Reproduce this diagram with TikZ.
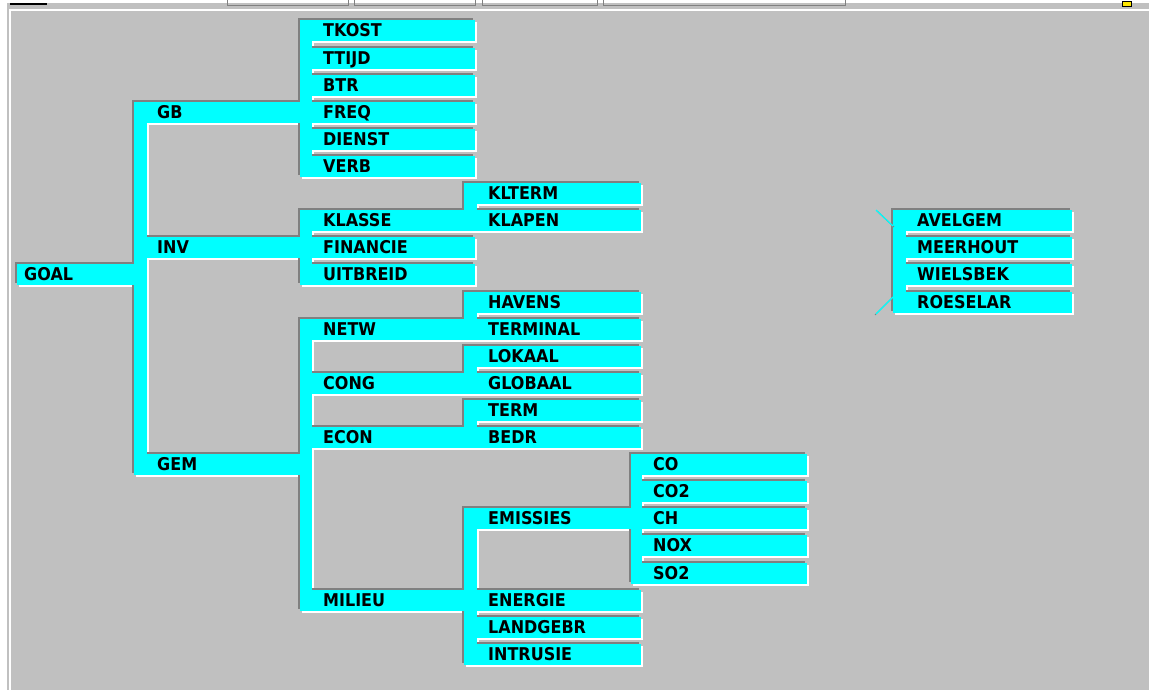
\documentclass[tikz,border=0pt]{standalone}
\usepackage{fontspec}
\newfontfamily\lblfont{DejaVu Sans}
\definecolor{bg}{HTML}{C0C0C0}
\definecolor{cy}{HTML}{00FFFF}
\definecolor{dk}{HTML}{808080}
\newcommand\Band[3]{\fill (#1,{31+27.1*(#3)-10.5}) rectangle (#2,{31+27.1*(#3)+10.5});}
\newcommand\Stem[4]{\fill (#1,{31+27.1*(#3)-10.5}) rectangle (#2,{31+27.1*(#4)+10.5});}
\newcommand\TreeShapes{%
  \Band{17}{134}{9}
  \Stem{134}{147}{3}{16}
  \Band{134}{300}{3}\Band{134}{300}{8}\Band{134}{300}{16}
  \Stem{300}{312}{0}{5}
  \foreach \n in {0,...,5}{\Band{300}{475}{\n}}
  \Stem{300}{312}{7}{9}
  \Band{300}{464}{7}\Band{300}{475}{8}\Band{300}{475}{9}
  \Stem{464}{477}{6}{7}\Band{464}{641}{6}\Band{464}{641}{7}
  \Stem{300}{312}{11}{21}
  \Band{300}{464}{11}\Band{300}{464}{13}\Band{300}{464}{15}\Band{300}{464}{21}
  \Stem{464}{477}{10}{11}\Stem{464}{477}{12}{13}\Stem{464}{477}{14}{15}
  \foreach \n in {10,...,15}{\Band{464}{641}{\n}}
  \Stem{464}{477}{18}{23}
  \Band{464}{631}{18}
  \Stem{631}{642}{16}{20}
  \foreach \n in {16,...,20}{\Band{631}{807}{\n}}
  \foreach \n in {21,22,23}{\Band{464}{641}{\n}}
  \Stem{893}{906}{7}{10}
  \foreach \n in {7,...,10}{\Band{893}{1072}{\n}}
}
\newcommand\Lb[1]{\scalebox{1}[1.1]{#1}}
\begin{document}
\begin{tikzpicture}[x=1pt,y=-1pt,
  lbl/.style={anchor=base west,inner sep=0pt,font=\lblfont\bfseries\fontsize{16}{18}\selectfont,text=black},
  tabline/.style={draw=dk,line width=0.8pt}]
\useasboundingbox (0,0) rectangle (1149,690);
% window background and frame
\fill[bg] (0,0) rectangle (1149,690);
\fill[white] (0,0) rectangle (1149,3);
\fill[white] (0,0) rectangle (7,690);
\fill[white] (9,9.5) rectangle (1149,11);
\fill[white] (9,9.5) rectangle (10.5,690);
\fill[black] (10,3) rectangle (47,5);
\foreach \a/\b in {227/348,354/475,482/597,603/845}{
  \draw[tabline] (\a,0) -- (\a,5.5) -- (\b,5.5) -- (\b,0);
}
\fill[yellow!90!orange,draw=black,line width=0.6pt] (1122,1) rectangle (1131,6);
% shaded ribbons
\begin{scope}[shift={(2,2)},fill=white]\TreeShapes\end{scope}
\begin{scope}[shift={(-2,-2)},fill=dk]\TreeShapes\end{scope}
\begin{scope}[fill=cy]\TreeShapes\end{scope}
% small diagonal ties of the separate group
\coordinate (t1) at (876,210); \coordinate (t2) at (893,226);
\coordinate (b1) at (893,297); \coordinate (b2) at (876,314);
\draw[dk,line width=1pt] ([xshift=1pt,yshift=-1pt]t1) -- ([xshift=1pt,yshift=-1pt]t2);
\draw[cy,line width=1.2pt] (t1) -- (t2);
\draw[dk,line width=1pt] ([xshift=-1pt,yshift=-1pt]b1) -- ([xshift=-1pt,yshift=-1pt]b2);
\draw[cy,line width=1.2pt] (b1) -- (b2);
% labels
\node[lbl] (goal) at (24,{31+27.1*9+6}) {\Lb{GOAL}};
\node[lbl] (gb) at (157,{31+27.1*3+6}) {\Lb{GB}};
\node[lbl] (inv) at (157,{31+27.1*8+6}) {\Lb{INV}};
\node[lbl] (gem) at (157,{31+27.1*16+6}) {\Lb{GEM}};
\node[lbl] (tkost) at (323,{31+27.1*0+6}) {\Lb{TKOST}};
\node[lbl] (ttijd) at (323,{31+27.1*1+6}) {\Lb{TTIJD}};
\node[lbl] (btr) at (323,{31+27.1*2+6}) {\Lb{BTR}};
\node[lbl] (freq) at (323,{31+27.1*3+6}) {\Lb{FREQ}};
\node[lbl] (dienst) at (323,{31+27.1*4+6}) {\Lb{DIENST}};
\node[lbl] (verb) at (323,{31+27.1*5+6}) {\Lb{VERB}};
\node[lbl] (klasse) at (323,{31+27.1*7+6}) {\Lb{KLASSE}};
\node[lbl] (financie) at (323,{31+27.1*8+6}) {\Lb{FINANCIE}};
\node[lbl] (uitbreid) at (323,{31+27.1*9+6}) {\Lb{UITBREID}};
\node[lbl] (netw) at (323,{31+27.1*11+6}) {\Lb{NETW}};
\node[lbl] (cong) at (323,{31+27.1*13+6}) {\Lb{CONG}};
\node[lbl] (econ) at (323,{31+27.1*15+6}) {\Lb{ECON}};
\node[lbl] (milieu) at (323,{31+27.1*21+6}) {\Lb{MILIEU}};
\node[lbl] (klterm) at (488,{31+27.1*6+6}) {\Lb{KLTERM}};
\node[lbl] (klapen) at (488,{31+27.1*7+6}) {\Lb{KLAPEN}};
\node[lbl] (havens) at (488,{31+27.1*10+6}) {\Lb{HAVENS}};
\node[lbl] (terminal) at (488,{31+27.1*11+6}) {\Lb{TERMINAL}};
\node[lbl] (lokaal) at (488,{31+27.1*12+6}) {\Lb{LOKAAL}};
\node[lbl] (globaal) at (488,{31+27.1*13+6}) {\Lb{GLOBAAL}};
\node[lbl] (term) at (488,{31+27.1*14+6}) {\Lb{TERM}};
\node[lbl] (bedr) at (488,{31+27.1*15+6}) {\Lb{BEDR}};
\node[lbl] (emissies) at (488,{31+27.1*18+6}) {\Lb{EMISSIES}};
\node[lbl] (energie) at (488,{31+27.1*21+6}) {\Lb{ENERGIE}};
\node[lbl] (landgebr) at (488,{31+27.1*22+6}) {\Lb{LANDGEBR}};
\node[lbl] (intrusie) at (488,{31+27.1*23+6}) {\Lb{INTRUSIE}};
\node[lbl] (co) at (653,{31+27.1*16+6}) {\Lb{CO}};
\node[lbl] (co2) at (653,{31+27.1*17+6}) {\Lb{CO2}};
\node[lbl] (ch) at (653,{31+27.1*18+6}) {\Lb{CH}};
\node[lbl] (nox) at (653,{31+27.1*19+6}) {\Lb{NOX}};
\node[lbl] (so2) at (653,{31+27.1*20+6}) {\Lb{SO2}};
\node[lbl] (avelgem) at (917,{31+27.1*7+6}) {\Lb{AVELGEM}};
\node[lbl] (meerhout) at (917,{31+27.1*8+6}) {\Lb{MEERHOUT}};
\node[lbl] (wielsbek) at (917,{31+27.1*9+6}) {\Lb{WIELSBEK}};
\node[lbl] (roeselar) at (917,{31+27.1*10+6}) {\Lb{ROESELAR}};
\end{tikzpicture}
\end{document}
